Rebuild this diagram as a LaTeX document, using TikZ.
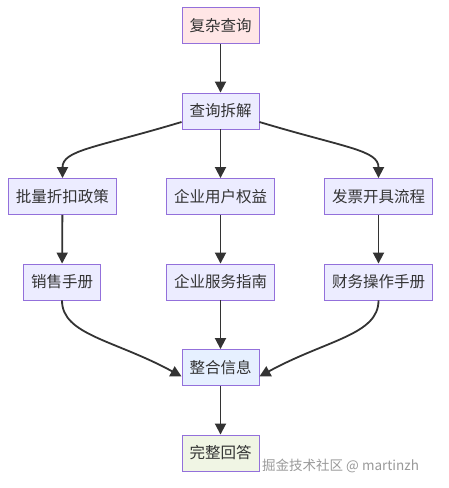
\documentclass[tikz,border=0pt]{standalone}
\usepackage{fontspec}
\setmainfont{Noto Sans CJK SC}
\usetikzlibrary{arrows.meta}
\definecolor{txt}{HTML}{333333}
\definecolor{edge}{HTML}{333333}
\definecolor{stk}{HTML}{9370DB}
\definecolor{fdef}{HTML}{ECECFF}
\definecolor{fpink}{HTML}{FFE6E6}
\definecolor{fblue}{HTML}{E6F0FF}
\definecolor{fgreen}{HTML}{F0F5E4}
\begin{document}
\begin{tikzpicture}[x=1pt,y=-1pt,
  box/.style={draw=stk,line width=0.9pt,fill=fdef,text=txt,font=\fontsize{15.5}{18}\selectfont,
    inner xsep=7.5pt,inner ysep=0pt,minimum height=36pt,anchor=center},
  conn/.style={draw=edge,line width=1.8pt,-{Triangle[length=11pt,width=11pt]}}]
\useasboundingbox (0,0) rectangle (449,488);
\node[box,fill=fpink] (a) at (220.5,25.5) {复杂查询};
\node[box] (b) at (220.5,111) {查询拆解};
\node[box] (c1) at (62.5,196.5) {批量折扣政策};
\node[box] (c2) at (220.5,196.5) {企业用户权益};
\node[box] (c3) at (378.5,196.5) {发票开具流程};
\node[box] (d1) at (62,282) {销售手册};
\node[box] (d2) at (220.5,282) {企业服务指南};
\node[box] (d3) at (378.5,282) {财务操作手册};
\node[box,fill=fblue] (e) at (220.5,367.5) {整合信息};
\node[box,fill=fgreen] (f) at (220.5,453) {完整回答};
\node[text=gray!80,font=\fontsize{13.5}{16}\selectfont,anchor=west,inner sep=0pt] (w) at (262,466) {掘金技术社区 @ martinzh};
\draw[conn] (a) -- (b);
\draw[conn] (b) -- (c2);
\draw[conn] ([yshift=-11pt]b.west) .. controls (95,148) and (62.5,150) .. (c1.north);
\draw[conn] ([yshift=-11pt]b.east) .. controls (346,148) and (378.5,150) .. (c3.north);
\draw[conn] (c1) -- (d1);
\draw[conn] (c2) -- (d2);
\draw[conn] (c3) -- (d3);
\draw[conn] (d1.south) .. controls (62,335) and (115,340) .. ([yshift=-9pt]e.west);
\draw[conn] (d2) -- (e);
\draw[conn] (d3.south) .. controls (378.5,335) and (326,340) .. ([yshift=-9pt]e.east);
\draw[conn] (e) -- (f);
\end{tikzpicture}
\end{document}
